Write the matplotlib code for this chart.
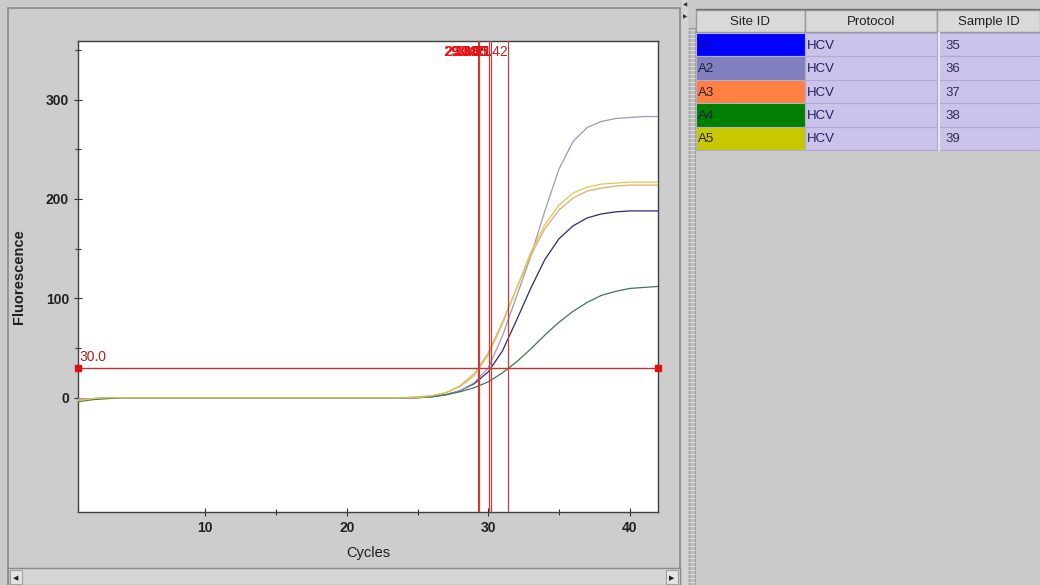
import matplotlib
matplotlib.use("Agg")
import matplotlib.pyplot as plt
from matplotlib.patches import Rectangle
from matplotlib.ticker import FixedLocator

plt.rcParams['font.family'] = ['Liberation Sans Narrow', 'Liberation Sans', 'DejaVu Sans']

# ---------------- data ----------------
cycles = list(range(1, 43))
site_ids = ["A1", "A2", "A3", "A4", "A5"]
protocols = ["HCV", "HCV", "HCV", "HCV", "HCV"]
sample_ids = ["35", "36", "37", "38", "39"]
site_colors = ["#0000ff", "#8080c0", "#ff8040", "#008000", "#c8c800"]
curve_colors = ["#2a2a78", "#9a9ab4", "#e8a868", "#3c7a52", "#d8c858"]

fluor_A1 = [-2, -1, 0, 0, 0, 0, 0, 0, 0, 0, 0, 0, 0, 0, 0, 0, 0, 0, 0, 0, 0, 0, 0, 0,
            0, 1, 3, 7, 14, 26, 47, 78, 110, 139, 160, 173, 181, 185, 187, 188, 188, 188]
fluor_A2 = [-1, -1, 0, 0, 0, 0, 0, 0, 0, 0, 0, 0, 0, 0, 0, 0, 0, 0, 0, 0, 0, 0, 0, 0,
            0, 1, 3, 7, 15, 30, 62, 102, 142, 188, 230, 258, 272, 278, 281, 282, 283, 283]
fluor_A3 = [-2, -1, 0, 0, 0, 0, 0, 0, 0, 0, 0, 0, 0, 0, 0, 0, 0, 0, 0, 0, 0, 0, 0, 0,
            1, 2, 5, 12, 24, 45, 76, 110, 143, 170, 189, 201, 208, 211, 213, 214, 214, 214]
fluor_A4 = [-4, -2, -1, 0, 0, 0, 0, 0, 0, 0, 0, 0, 0, 0, 0, 0, 0, 0, 0, 0, 0, 0, 0, 0,
            0, 1, 3, 6, 10, 16, 25, 36, 49, 63, 76, 87, 96, 103, 107, 110, 111, 112]
fluor_A5 = [-3, -1, 0, 0, 0, 0, 0, 0, 0, 0, 0, 0, 0, 0, 0, 0, 0, 0, 0, 0, 0, 0, 0, 0,
            0, 2, 5, 11, 22, 43, 74, 110, 146, 174, 194, 206, 212, 215, 216, 217, 217, 217]
series = [fluor_A1, fluor_A2, fluor_A3, fluor_A4, fluor_A5]

threshold = 30.0
ct_values = [30.21, 30.05, 29.30, 31.42, 29.38]
ct_labels = ["30.21", "30.05", "29.30", "31.42", "29.38"]

x_ticks = [10, 20, 30, 40]
x_minor = [15, 25, 35]
y_ticks = [0, 100, 200, 300]
y_minor = [50, 150, 250, 350]

# ---------------- figure ----------------
W, H = 1040, 585
fig = plt.figure(figsize=(W / 100, H / 100), dpi=100)
fig.patch.set_facecolor("#cacaca")


def fr(x0, y0, x1, y1):
    return [x0 / W, 1 - y1 / H, (x1 - x0) / W, (y1 - y0) / H]


# overlay (pixel coords) for panels
ov = fig.add_axes([0, 0, 1, 1], zorder=0)
ov.set_xlim(0, W)
ov.set_ylim(H, 0)
ov.axis("off")

# left panel border
ov.add_patch(Rectangle((8, 8), 672, 577, facecolor="#cdcdcd", edgecolor="#8a8a8a", lw=1.2))
# bottom scroll bar
ov.add_patch(Rectangle((8, 568), 672, 17, facecolor="#d6d6d6", edgecolor="#8a8a8a", lw=1))
ov.add_patch(Rectangle((10, 570), 12, 14, facecolor="#e4e4e4", edgecolor="#a0a0a0", lw=0.8))
ov.add_patch(Rectangle((666, 570), 12, 14, facecolor="#e4e4e4", edgecolor="#a0a0a0", lw=0.8))
ov.text(16, 578, "◀", fontsize=5, ha="center", va="center", color="#202020", family="DejaVu Sans")
ov.text(672, 578, "▶", fontsize=5, ha="center", va="center", color="#202020", family="DejaVu Sans")

# divider strip
ov.add_patch(Rectangle((682, 0), 6, H, facecolor="#d4d4d4", edgecolor="none"))
ov.text(685, 5, "◀", fontsize=4, ha="center", va="center", color="#303030", family="DejaVu Sans")
ov.text(685, 17, "▶", fontsize=4, ha="center", va="center", color="#303030", family="DejaVu Sans")
ov.add_patch(Rectangle((689, 28), 6, H - 28, facecolor="#bdbdbd", edgecolor="#9a9a9a", lw=0.8))
for yy in range(30, H, 4):
    ov.plot([689, 695], [yy, yy], color="#e6e6e6", lw=0.5)

# table
col_x = [696, 805, 937, 1040]
head_y0, head_y1 = 10, 32
row_h = 23.4
ov.plot([696, 1040], [9, 9], color="#707070", lw=1)
headers = ["Site ID", "Protocol", "Sample ID"]
for i, h in enumerate(headers):
    ov.add_patch(Rectangle((col_x[i], head_y0), col_x[i + 1] - col_x[i], head_y1 - head_y0,
                           facecolor="#d9d9d9", edgecolor="#9a9a9a", lw=1))
    ov.text((col_x[i] + col_x[i + 1]) / 2, (head_y0 + head_y1) / 2 + 1, h, fontsize=9.5,
            ha="center", va="center", color="#202020")

for r in range(len(site_ids)):
    y0 = head_y1 + 1 + r * row_h
    ov.add_patch(Rectangle((col_x[0], y0), col_x[1] - col_x[0], row_h,
                           facecolor=site_colors[r], edgecolor="#b0b0c8", lw=0.8))
    ov.add_patch(Rectangle((col_x[1], y0), col_x[2] - col_x[1], row_h,
                           facecolor="#cbc3ea", edgecolor="#b0a8d0", lw=0.8))
    ov.add_patch(Rectangle((col_x[2], y0), col_x[3] - col_x[2], row_h,
                           facecolor="#cbc3ea", edgecolor="#b0a8d0", lw=0.8))
    tc = "#1010a0" if r == 0 else "#202040"
    ov.text(col_x[0] + 2, y0 + row_h / 2 + 1, site_ids[r], fontsize=9.5, ha="left", va="center", color=tc)
    ov.text(col_x[1] + 2, y0 + row_h / 2 + 1, protocols[r], fontsize=9.5, ha="left", va="center", color="#202060")
    ov.text(col_x[2] + 8, y0 + row_h / 2 + 1, sample_ids[r], fontsize=9.5, ha="left", va="center", color="#303050")
ov.plot([939, 939], [33, 33 + 5 * row_h], color="#e0e8f0", lw=1.5)

# ---------------- plot ----------------
ax = fig.add_axes(fr(78, 41, 658, 512), zorder=2)
ax.set_facecolor("white")
for i, ys in enumerate(series):
    ax.plot(cycles, ys, color=curve_colors[i], lw=0.9, zorder=3)

ax.axhline(threshold, color="#c83030", lw=1.0, zorder=4)
ax.plot([cycles[0], cycles[-1]], [threshold, threshold], ls="none", marker="s", ms=5,
        color="#e01010", clip_on=False, zorder=6)
ax.text(cycles[0] + 0.1, threshold + 4, f"{threshold:.1f}", color="#b02020", fontsize=10,
        ha="left", va="bottom", zorder=5)

for i, ct in enumerate(ct_values):
    ax.axvline(ct, color="#c04040", lw=0.9, zorder=4)
for i in [2, 4, 1, 0, 3]:
    ax.text(ct_values[i], 348, ct_labels[i], color="#c02020" if i in (2, 3) else "#ee1010",
            fontsize=10, ha="right", va="center", zorder=5,
            fontweight="normal" if i in (2, 3) else "bold")

ax.set_xlim(1, 42)
ax.set_ylim(-115, 359)
ax.set_xticks(x_ticks)
ax.set_yticks(y_ticks)
ax.xaxis.set_minor_locator(FixedLocator(x_minor))
ax.yaxis.set_minor_locator(FixedLocator(y_minor))
ax.tick_params(axis="both", which="major", direction="inout", length=6, width=0.8,
               labelsize=10, colors="#303030", labelcolor="#202020")
ax.tick_params(axis="both", which="minor", direction="inout", length=5, width=0.8, colors="#303030")
for lab in ax.get_xticklabels() + ax.get_yticklabels():
    lab.set_fontweight("bold")
for sp in ax.spines.values():
    sp.set_color("#404040")
    sp.set_linewidth(1.0)

ax.set_xlabel("Cycles", fontsize=10.5, color="#202020", labelpad=8)
ax.set_ylabel("Fluorescence", fontsize=10.5, fontweight="bold", color="#202020", labelpad=14)

fig.savefig("out.png", dpi=100, facecolor=fig.get_facecolor())
